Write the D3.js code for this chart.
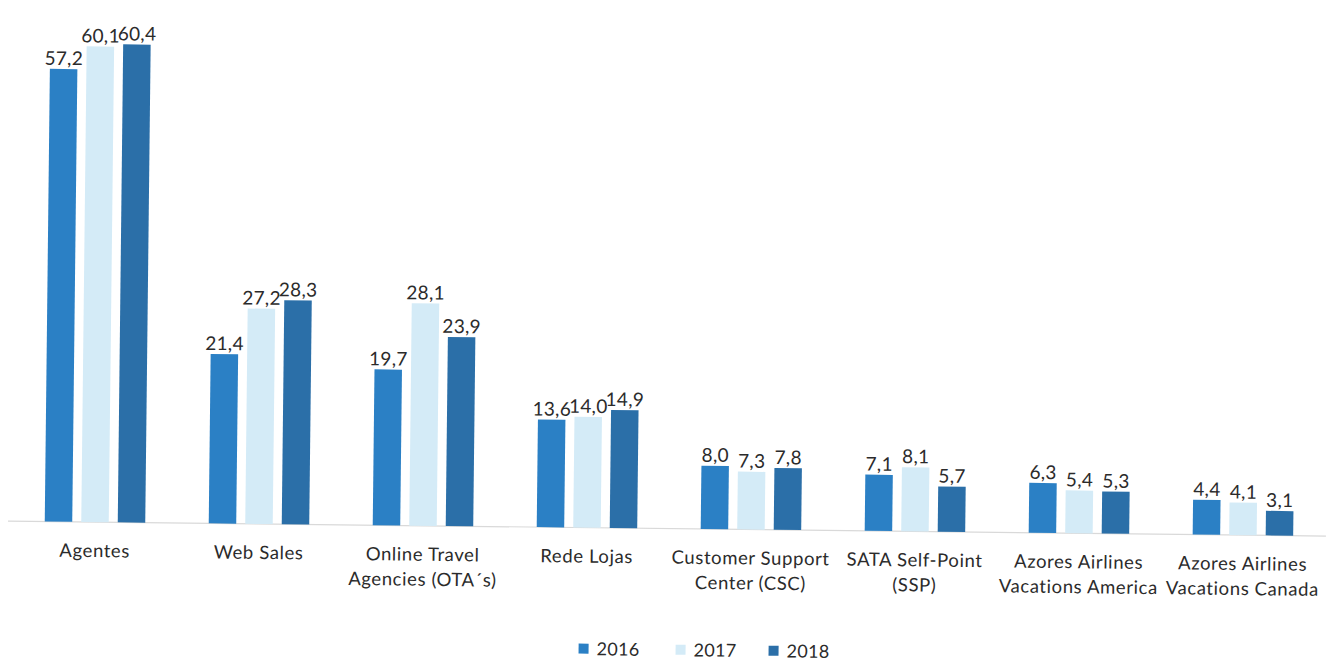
<!DOCTYPE html>
<html>
<head>
<meta charset="utf-8">
<script src="https://cdn.jsdelivr.net/npm/d3@7"></script>
<style>
  html, body { margin: 0; padding: 0; background: #ffffff; }
  svg { display: block; }
  text { font-family: Lato, "Open Sans", "DejaVu Sans", sans-serif; fill: #2b2b2b; }
</style>
</head>
<body>
<svg id="chart" width="1339" height="662"></svg>
<script>
// Sales channels (categories), one label line per array entry
const categories = [
  ["Agentes"],
  ["Web Sales"],
  ["Online Travel", "Agencies (OTA´s)"],
  ["Rede Lojas"],
  ["Customer Support", "Center (CSC)"],
  ["SATA Self-Point", "(SSP)"],
  ["Azores Airlines", "Vacations America"],
  ["Azores Airlines", "Vacations Canada"]
];
const years = ["2016", "2017", "2018"];
const values2016 = [57.2, 21.4, 19.7, 13.6, 8.0, 7.1, 6.3, 4.4];
const values2017 = [60.1, 27.2, 28.1, 14.0, 7.3, 8.1, 5.4, 4.1];
const values2018 = [60.4, 28.3, 23.9, 14.9, 7.8, 5.7, 5.3, 3.1];
const colors = ["#2b80c5", "#d4ebf7", "#2b6fa8"];

const series = [values2016, values2017, values2018];
const keys = categories.map(c => c.join(" "));

const svg = d3.select("#chart");
const baseY = 521;

// the whole figure sits slightly tilted
const g = svg.append("g")
  .attr("transform", `rotate(0.65, 0, ${baseY})`);

const x0 = d3.scaleBand().domain(keys).range([13, 1325]).padding(0);
const x1 = d3.scaleBand().domain(years).range([0, 100.5]).paddingInner(0.247).paddingOuter(0);
const y = d3.scaleLinear().domain([0, 60.4]).range([baseY, 43]);

const fmt = v => d3.format(".1f")(v).replace(".", ",");

// baseline
g.append("line")
  .attr("x1", 8).attr("x2", 1326)
  .attr("y1", y(0)).attr("y2", y(0))
  .attr("stroke", "#d9d9d9").attr("stroke-width", 1.2);

const groups = g.selectAll("g.cat")
  .data(keys)
  .join("g")
  .attr("class", "cat")
  .attr("transform", k => `translate(${x0(k) + x0.bandwidth() / 2 - 50.25},0)`);

groups.each(function (k, i) {
  const grp = d3.select(this);
  const rows = years.map((yr, j) => ({ yr, j, v: series[j][i] }));
  grp.selectAll("rect")
    .data(rows)
    .join("rect")
    .attr("x", d => x1(d.yr))
    .attr("width", x1.bandwidth())
    .attr("y", d => y(d.v))
    .attr("height", d => y(0) - y(d.v))
    .attr("fill", d => colors[d.j]);
  grp.selectAll("text.val")
    .data(rows)
    .join("text")
    .attr("class", "val")
    .attr("x", d => x1(d.yr) + x1.bandwidth() / 2)
    .attr("y", d => y(d.v) - 4)
    .attr("text-anchor", "middle")
    .style("font-size", "19px")
    .style("letter-spacing", "0.3px")
    .text(d => fmt(d.v));
});

// category labels
const catLabels = g.selectAll("text.cat")
  .data(categories)
  .join("text")
  .attr("class", "cat")
  .attr("text-anchor", "middle")
  .style("font-size", "18.5px")
  .style("letter-spacing", "0.6px")
  .attr("transform", (c, i) => `translate(${x0(keys[i]) + x0.bandwidth() / 2},${baseY + 35})`);
catLabels.selectAll("tspan")
  .data(c => c)
  .join("tspan")
  .attr("x", 0)
  .attr("y", (d, j) => j * 25)
  .text(d => d);

// legend
const legendX = [580, 677, 770];
const legend = g.selectAll("g.leg")
  .data(years)
  .join("g")
  .attr("class", "leg")
  .attr("transform", (d, i) => `translate(${legendX[i]},642)`);
legend.append("rect")
  .attr("x", 0).attr("y", -5)
  .attr("width", 10).attr("height", 10)
  .attr("fill", (d, i) => colors[i]);
legend.append("text")
  .attr("x", 18).attr("y", 6.5)
  .style("font-size", "18px")
  .style("letter-spacing", "0.3px")
  .text(d => d);
</script>
</body>
</html>
